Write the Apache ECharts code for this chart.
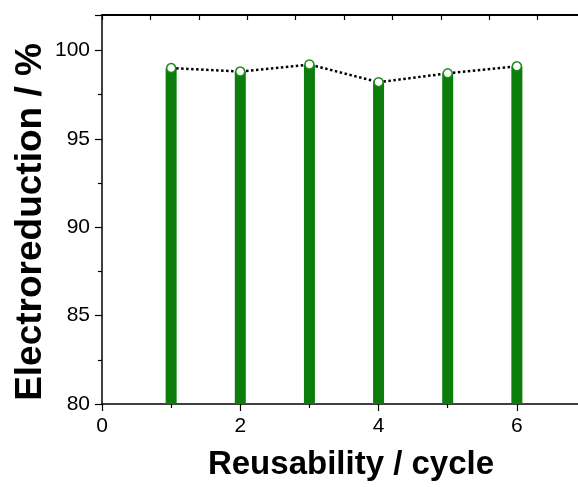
<!DOCTYPE html>
<html>
<head>
<meta charset="utf-8">
<script src="https://cdn.jsdelivr.net/npm/echarts@6/dist/echarts.min.js"></script>
<style>html,body{margin:0;padding:0;background:#fff;}#c{width:578px;height:487px;}</style>
</head>
<body>
<div id="c"></div>
<script>
const cycles = [1, 2, 3, 4, 5, 6];
const electroreduction = [99.0, 98.8, 99.2, 98.2, 98.7, 99.1];
const xTitle = 'Reusability / cycle';
const yTitle = 'Electroreduction / %';
const xRange = [0, 7];
const yRange = [80, 102];

const pts = cycles.map((c, i) => [c, electroreduction[i]]);
const chart = echarts.init(document.getElementById('c'), null, {renderer: 'canvas'});
const font = '"Liberation Sans", Arial, sans-serif';
chart.setOption({
  animation: false,
  backgroundColor: '#fff',
  grid: {left: 102, top: 15, width: 484, height: 389, containLabel: false, outerBoundsMode: 'none'},
  xAxis: [{
    type: 'value', min: xRange[0], max: xRange[1], interval: 2, position: 'bottom',
    axisLine: {lineStyle: {color: '#000', width: 1.5}},
    axisTick: {inside: false, length: 7, lineStyle: {color: '#000', width: 1.2}},
    minorTick: {show: true, splitNumber: 2, length: 4, lineStyle: {color: '#000', width: 1.2}},
    axisLabel: {fontSize: 21, color: '#000', fontFamily: font, margin: 12,
      formatter: v => (v === 7 ? '' : String(v))},
    splitLine: {show: false}
  }, {
    type: 'value', min: 0, max: 10, interval: 1, position: 'top',
    axisLine: {lineStyle: {color: '#000', width: 2}},
    axisTick: {inside: true, length: 5, lineStyle: {color: '#000', width: 1.2}},
    axisLabel: {show: false}, splitLine: {show: false}
  }],
  yAxis: [{
    type: 'value', min: yRange[0], max: yRange[1], interval: 5, position: 'left',
    axisLine: {show: true, lineStyle: {color: '#000', width: 1.5}},
    axisTick: {inside: false, length: 7, lineStyle: {color: '#000', width: 1.2}},
    minorTick: {show: true, splitNumber: 2, length: 4, lineStyle: {color: '#000', width: 1.2}},
    axisLabel: {fontSize: 21, color: '#000', fontFamily: font, margin: 12,
      formatter: v => (v % 5 === 0 ? String(v) : '')},
    splitLine: {show: false}
  }],
  series: [{
    type: 'bar', xAxisIndex: 0, yAxisIndex: 0, data: pts, barWidth: 11,
    itemStyle: {color: '#0b7d0b'}, z: 1
  }, {
    type: 'line', xAxisIndex: 0, yAxisIndex: 0, data: pts,
    symbol: 'circle', symbolSize: 9,
    itemStyle: {color: '#fff', borderColor: '#1a8a1a', borderWidth: 1.5},
    lineStyle: {color: '#000', width: 2.5, type: [2.5, 2.5]},
    z: 3
  }],
  graphic: [{
    type: 'text', x: 351, y: 465,
    style: {text: xTitle, font: 'bold 33px ' + font, fill: '#000', align: 'center', verticalAlign: 'middle'}
  }, {
    type: 'text', x: 31, y: 222, rotation: Math.PI / 2,
    style: {text: yTitle, font: 'bold 37px ' + font, fill: '#000', align: 'center', verticalAlign: 'middle'}
  }]
});
</script>
</body>
</html>
